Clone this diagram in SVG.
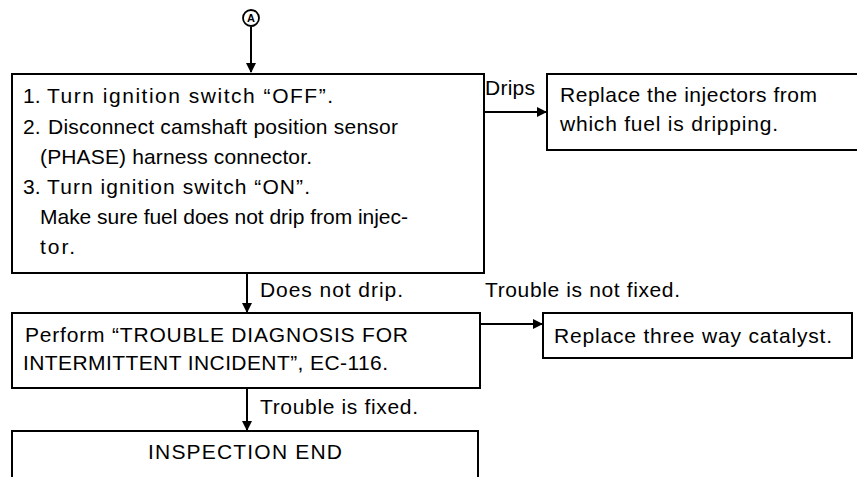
<svg xmlns="http://www.w3.org/2000/svg" width="857" height="477" viewBox="0 0 857 477">
<style>
.box{fill:#fff;stroke:#000;stroke-width:2}
.t{font-family:"Liberation Sans",Arial,sans-serif;font-size:21px;fill:#000}
.c{stroke:#000;stroke-width:2;fill:none}
</style>
<defs>
<marker id="ah" markerWidth="10" markerHeight="10" refX="9" refY="5" orient="auto" markerUnits="userSpaceOnUse">
<path d="M0,0 L10,5 L0,10 z" fill="#000"/>
</marker>
</defs>
<rect width="857" height="477" fill="#fff"/>
<g id="start">
<circle cx="251" cy="18" r="8" fill="#fff" stroke="#000" stroke-width="1.8"/>
<text x="251" y="22" text-anchor="middle" font-family="Liberation Sans,Arial,sans-serif" font-size="11" font-weight="bold">A</text>
</g>
<g id="connectors">
<line class="c" x1="251" y1="27" x2="251" y2="72" marker-end="url(#ah)"/>
<line class="c" x1="485" y1="112" x2="546" y2="112" marker-end="url(#ah)"/>
<line class="c" x1="247" y1="273" x2="247" y2="312" marker-end="url(#ah)"/>
<line class="c" x1="481" y1="324" x2="542" y2="324" marker-end="url(#ah)"/>
<line class="c" x1="247" y1="388" x2="247" y2="430" marker-end="url(#ah)"/>
<text class="t" x="485" y="95" textLength="50" lengthAdjust="spacing">Drips</text>
<text class="t" x="260" y="297" textLength="143" lengthAdjust="spacing">Does not drip.</text>
<text class="t" x="485" y="297" textLength="195" lengthAdjust="spacing">Trouble is not fixed.</text>
<text class="t" x="260" y="414" textLength="158" lengthAdjust="spacing">Trouble is fixed.</text>
</g>
<g id="step1">
<rect class="box" x="12" y="74" width="472" height="199"/>
<text class="t" x="23" y="103">1.</text>
<text class="t" x="47" y="103" textLength="286" lengthAdjust="spacing">Turn ignition switch “OFF”.</text>
<text class="t" x="23" y="134">2.</text>
<text class="t" x="48" y="134" textLength="350" lengthAdjust="spacing">Disconnect camshaft position sensor</text>
<text class="t" x="40" y="164" textLength="272" lengthAdjust="spacing">(PHASE) harness connector.</text>
<text class="t" x="23" y="194">3.</text>
<text class="t" x="47" y="194" textLength="263" lengthAdjust="spacing">Turn ignition switch “ON”.</text>
<text class="t" x="40" y="224" textLength="368" lengthAdjust="spacing">Make sure fuel does not drip from injec-</text>
<text class="t" x="40" y="254" textLength="35" lengthAdjust="spacing">tor.</text>
</g>
<g id="replace-injectors">
<rect class="box" x="547" y="74" width="320" height="76"/>
<text class="t" x="560" y="102" textLength="257" lengthAdjust="spacing">Replace the injectors from</text>
<text class="t" x="560" y="131" textLength="218" lengthAdjust="spacing">which fuel is dripping.</text>
</g>
<g id="step2">
<rect class="box" x="12" y="313" width="468" height="75"/>
<text class="t" x="25" y="342" textLength="383" lengthAdjust="spacing">Perform “TROUBLE DIAGNOSIS FOR</text>
<text class="t" x="23" y="370" textLength="365" lengthAdjust="spacing">INTERMITTENT INCIDENT”, EC-116.</text>
</g>
<g id="replace-catalyst">
<rect class="box" x="543" y="313" width="309" height="45"/>
<text class="t" x="554" y="343" textLength="278" lengthAdjust="spacing">Replace three way catalyst.</text>
</g>
<g id="end">
<rect class="box" x="12" y="431" width="466" height="60"/>
<text class="t" x="148" y="459" textLength="194" lengthAdjust="spacing">INSPECTION END</text>
</g>
</svg>
